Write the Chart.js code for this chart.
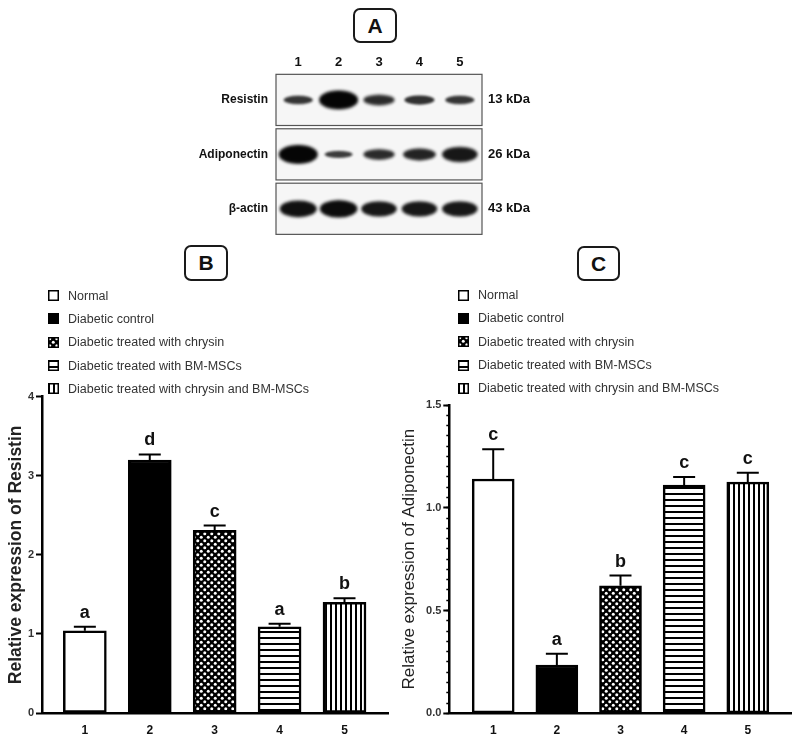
<!DOCTYPE html>
<html>
<head>
<meta charset="utf-8">
<script src="https://cdn.jsdelivr.net/npm/chart.js@4.4.1/dist/chart.umd.min.js"></script>
<style>
  body { margin: 0; background: #fff; }
  #wrap { position: relative; width: 798px; height: 746px; background: #fff; overflow: hidden; font-family: "Liberation Sans", Arial, sans-serif; }
  .box { position: absolute; box-sizing: border-box; border: 2.5px solid #1a1a1a; border-radius: 7px;
         display: flex; align-items: center; justify-content: center; font-weight: bold; font-size: 21px; color: #111; }
  .cv { position: absolute; }
  .legend { position: absolute; z-index: 2; font-size: 12.5px; color: #333; }
  .legend div { height: 23.3px; display: flex; align-items: center; white-space: nowrap; }
  .legend canvas { margin-right: 9px; }
</style>
</head>
<body>
<div id="wrap">
  <div class="box" style="left:353px;top:8px;width:44px;height:35px;">A</div>
  <div class="box" style="left:184px;top:245px;width:44px;height:36px;">B</div>
  <div class="box" style="left:577px;top:246px;width:43px;height:35px;">C</div>

  <div class="cv" style="left:190px;top:40px;width:360px;height:207px;"><canvas id="blot"></canvas></div>

  <div class="legend" id="legB" style="left:48px;top:284px;"></div>
  <div class="legend" id="legC" style="left:458px;top:283.5px;"></div>

  <div class="cv" style="left:0px;top:385px;width:398px;height:361px;"><canvas id="chartB"></canvas></div>
  <div class="cv" style="left:398px;top:385px;width:400px;height:361px;"><canvas id="chartC"></canvas></div>
</div>

<script>
// groups 1..5
const lanes = [1, 2, 3, 4, 5];
const groups = [
    "Normal",
    "Diabetic control",
    "Diabetic treated with chrysin",
    "Diabetic treated with BM-MSCs",
    "Diabetic treated with chrysin and BM-MSCs"
];

// panel B - resistin
const resistinMean = [1.04, 3.20, 2.31, 1.09, 1.40];
const resistinSem = [0.05, 0.07, 0.06, 0.04, 0.05];
const resistinLetters = ["a", "d", "c", "a", "b"];
const resistinTicks = [0, 1, 2, 3, 4];

// panel C - adiponectin
const adipoMean = [1.14, 0.235, 0.62, 1.11, 1.125];
const adipoSem = [0.145, 0.055, 0.05, 0.04, 0.045];
const adipoLetters = ["c", "a", "b", "c", "c"];
const adipoTicks = [0, 0.5, 1.0, 1.5];

// panel A - western blot, band density per lane (0..1)
const blotProteins = ["Resistin", "Adiponectin", "β-actin"];
const blotWeights = ["13 kDa", "26 kDa", "43 kDa"];
const resistinBand = [0.3, 1.0, 0.45, 0.35, 0.3];
const adipoBand = [1.0, 0.2, 0.45, 0.55, 0.75];
const actinBand = [0.85, 0.9, 0.75, 0.75, 0.75];

const FONT = "'Liberation Sans', Arial, sans-serif";
const fills = ["white", "black", "checker", "hlines", "vlines"];

function makePattern(ctx, kind) {
    const c = document.createElement("canvas");
    const g = c.getContext("2d");
    if (kind === "checker") {
        c.width = 7; c.height = 7;
        g.fillStyle = "#000";
        g.fillRect(0, 0, 7, 7);
        g.fillStyle = "#fff";
        [[1.75, 1.75], [5.25, 5.25]].forEach(p => {
            g.beginPath();
            g.arc(p[0], p[1], 1.5, 0, Math.PI * 2);
            g.fill();
        });
    } else if (kind === "hlines") {
        c.width = 6; c.height = 6;
        g.fillStyle = "#fff";
        g.fillRect(0, 0, 6, 6);
        g.fillStyle = "#000";
        g.fillRect(0, 0, 6, 2);
    } else if (kind === "vlines") {
        c.width = 5; c.height = 5;
        g.fillStyle = "#fff";
        g.fillRect(0, 0, 5, 5);
        g.fillStyle = "#000";
        g.fillRect(0, 0, 2, 5);
    } else {
        return kind;
    }
    return ctx.createPattern(c, "repeat");
}

function fillList(ctx) {
    return fills.map(f => f === "white" ? "#fff" : f === "black" ? "#000" : makePattern(ctx, f));
}

function buildLegend(id) {
    const div = document.getElementById(id);
    groups.forEach((name, i) => {
        const row = document.createElement("div");
        const sw = document.createElement("canvas");
        sw.width = 11; sw.height = 11;
        const g = sw.getContext("2d");
        g.fillStyle = fillList(g)[i];
        g.fillRect(0, 0, 11, 11);
        g.strokeStyle = "#000";
        g.lineWidth = 1.5;
        g.strokeRect(0.75, 0.75, 9.5, 9.5);
        row.appendChild(sw);
        row.appendChild(document.createTextNode(name));
        div.appendChild(row);
    });
}

// error bars and significance letters
const errLetters = {
    id: "errLetters",
    afterDatasetsDraw(chart, args, opts) {
        const ctx = chart.ctx;
        const y = chart.scales.y;
        const meta = chart.getDatasetMeta(0);
        ctx.save();
        ctx.strokeStyle = "#000";
        ctx.lineWidth = 2;
        ctx.fillStyle = "#111";
        ctx.font = "bold 18px " + FONT;
        ctx.textAlign = "center";
        ctx.textBaseline = "alphabetic";
        meta.data.forEach((bar, i) => {
            const top = y.getPixelForValue(opts.mean[i]);
            const cap = y.getPixelForValue(opts.mean[i] + opts.sem[i]);
            ctx.beginPath();
            ctx.moveTo(bar.x, top);
            ctx.lineTo(bar.x, cap);
            ctx.moveTo(bar.x - 11, cap);
            ctx.lineTo(bar.x + 11, cap);
            ctx.stroke();
            ctx.fillText(opts.letters[i], bar.x, cap - 9);
        });
        ctx.restore();
    }
};

function barChart(id, cfg) {
    const canvas = document.getElementById(id);
    const ctx = canvas.getContext("2d");
    const scales = {
        x: {
            type: "linear",
            offset: false,
            min: cfg.xmin, max: cfg.xmax,
            afterBuildTicks: s => { s.ticks = lanes.map(v => ({ value: v })); },
            afterFit: s => { s.height = cfg.xh; },
            grid: { display: false, drawTicks: false },
            border: { color: "#000", width: 2.5 },
            ticks: { font: { family: FONT, size: 12, weight: "bold" }, color: "#111", padding: 10 }
        },
        y: {
            min: cfg.ticks[0], max: cfg.ticks[cfg.ticks.length - 1],
            weight: 1,
            afterBuildTicks: s => { s.ticks = cfg.ticks.map(v => ({ value: v })); },
            afterFit: s => { s.width = cfg.yw; },
            grid: { drawOnChartArea: false, tickLength: 6, tickWidth: 2, tickColor: "#000" },
            border: { color: "#000", width: 2.5 },
            ticks: {
                font: { family: FONT, size: 11, weight: "bold" }, color: "#333", padding: 2,
                callback: v => cfg.decimals ? v.toFixed(1) : v
            },
            title: {
                display: true, text: cfg.title, color: "#222",
                font: { family: FONT, size: cfg.titleSize, weight: cfg.titleBold ? "bold" : "normal" },
                padding: { top: cfg.titlePad, bottom: 0 }
            }
        }
    };
    if (cfg.minor) {
        scales.y2 = {
            type: "linear", position: "left", weight: 0,
            min: cfg.ticks[0], max: cfg.ticks[cfg.ticks.length - 1],
            ticks: { display: false, stepSize: cfg.minor },
            afterFit: s => { s.width = 0; },
            grid: { drawOnChartArea: false, tickLength: 3, tickWidth: 1.5, tickColor: "#000" },
            border: { display: false }
        };
    }
    return new Chart(canvas, {
        type: "bar",
        data: {
            datasets: [{
                data: lanes.map((l, i) => ({ x: l, y: cfg.mean[i] })),
                backgroundColor: fillList(ctx),
                borderColor: "#000",
                borderWidth: 2.5,
                borderSkipped: false,
                barThickness: cfg.barW
            }]
        },
        options: {
            responsive: true,
            maintainAspectRatio: false,
            animation: false,
            events: [],
            layout: { padding: { top: cfg.padTop, right: cfg.padRight, left: 0, bottom: 0 } },
            plugins: {
                legend: { display: false },
                tooltip: { enabled: false },
                errLetters: { mean: cfg.mean, sem: cfg.sem, letters: cfg.letters }
            },
            scales: scales
        },
        plugins: [errLetters]
    });
}

// blot: one band image per lane, size and darkness from density
function bandImage(d) {
    const w = 25 + 14 * d, h = 4 + 15 * d;
    const c = document.createElement("canvas");
    c.width = Math.ceil(w + 12);
    c.height = Math.ceil(h + 12);
    const g = c.getContext("2d");
    g.filter = "blur(" + (1 + d * 0.8) + "px)";
    g.fillStyle = "rgba(5,5,5," + (0.72 + 0.28 * d) + ")";
    g.beginPath();
    g.ellipse(c.width / 2, c.height / 2, w / 2, h / 2, 0, 0, Math.PI * 2);
    g.fill();
    return c;
}

const blotFrames = {
    id: "blotFrames",
    beforeDatasetsDraw(chart) {
        const { ctx, chartArea } = chart;
        const y = chart.scales.y;
        ctx.save();
        blotProteins.forEach((p, r) => {
            const t = y.getPixelForValue(r - 0.47);
            const b = y.getPixelForValue(r + 0.47);
            ctx.fillStyle = "#f6f6f6";
            ctx.fillRect(chartArea.left, t, chartArea.right - chartArea.left, b - t);
            ctx.strokeStyle = "#555";
            ctx.lineWidth = 1.2;
            ctx.strokeRect(chartArea.left, t, chartArea.right - chartArea.left, b - t);
        });
        ctx.restore();
    }
};

const blotRows = [resistinBand, adipoBand, actinBand];
const rowTicks = s => { s.ticks = blotProteins.map((p, r) => ({ value: r })); };
const noPad = s => { s.paddingTop = 0; s.paddingBottom = 0; s.paddingLeft = 0; s.paddingRight = 0; };

new Chart(document.getElementById("blot"), {
    type: "scatter",
    data: {
        datasets: blotRows.map((row, r) => ({
            data: lanes.map(l => ({ x: l, y: r })),
            pointStyle: row.map(d => bandImage(d)),
            pointRadius: 10
        }))
    },
    options: {
        responsive: true,
        maintainAspectRatio: false,
        animation: false,
        events: [],
        layout: { padding: { bottom: 4.5 } },
        plugins: { legend: { display: false }, tooltip: { enabled: false } },
        scales: {
            x: {
                type: "linear", position: "top", min: 0.45, max: 5.55,
                afterBuildTicks: s => { s.ticks = lanes.map(v => ({ value: v })); },
                afterFit: s => { s.height = 32.7; noPad(s); },
                grid: { display: false, drawTicks: false }, border: { display: false },
                ticks: { font: { family: FONT, size: 13, weight: "bold" }, color: "#111", padding: 2 }
            },
            y: {
                type: "linear", min: -0.5, max: 2.5, reverse: true,
                afterBuildTicks: rowTicks,
                afterFit: s => { s.width = 86; noPad(s); },
                grid: { display: false, drawTicks: false }, border: { display: false },
                ticks: { font: { family: FONT, size: 12, weight: "bold" }, color: "#111", padding: 8,
                         callback: v => blotProteins[v] }
            },
            y2: {
                type: "linear", position: "right", min: -0.5, max: 2.5, reverse: true,
                afterBuildTicks: rowTicks,
                afterFit: s => { s.width = 68; noPad(s); },
                grid: { display: false, drawTicks: false }, border: { display: false },
                ticks: { font: { family: FONT, size: 13, weight: "bold" }, color: "#111", padding: 6,
                         callback: v => blotWeights[v] }
            }
        }
    },
    plugins: [blotFrames]
});

buildLegend("legB");
buildLegend("legC");

barChart("chartB", {
    mean: resistinMean, sem: resistinSem, letters: resistinLetters, ticks: resistinTicks,
    title: "Relative expression of Resistin", titleBold: true, titleSize: 17.5, titlePad: 5.5, decimals: false,
    xmin: 0.34, xmax: 5.67, xh: 33, yw: 42, padTop: 11.7, padRight: 10, barW: 43
});

barChart("chartC", {
    mean: adipoMean, sem: adipoSem, letters: adipoLetters, ticks: adipoTicks,
    title: "Relative expression of Adiponectin", titleBold: false, titleSize: 17, titlePad: 1.5, decimals: true, minor: 0.05,
    xmin: 0.31, xmax: 5.69, xh: 32.7, yw: 51.3, padTop: 20, padRight: 6.3, barW: 42
});
</script>
</body>
</html>
